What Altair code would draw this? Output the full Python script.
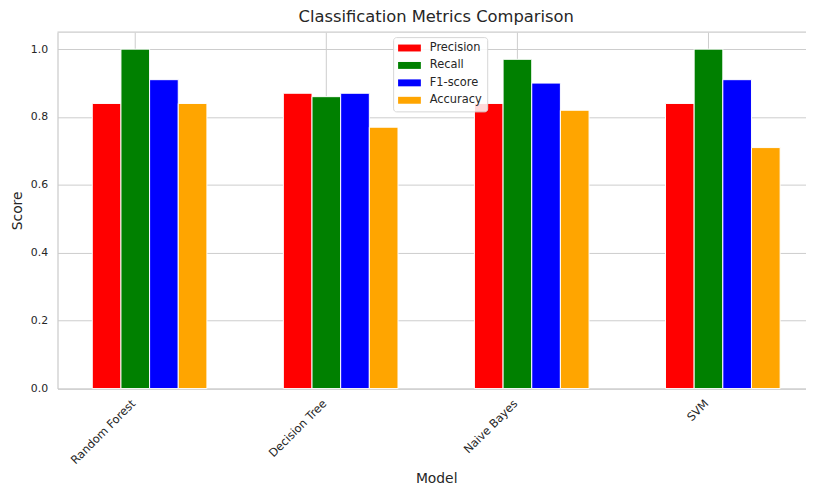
import altair as alt
import pandas as pd

models = ["Random Forest", "Decision Tree", "Naive Bayes", "SVM"]
metrics = ["Precision", "Recall", "F1-score", "Accuracy"]
precision = [0.84, 0.87, 0.84, 0.84]
recall = [1.00, 0.86, 0.97, 1.00]
f1_score = [0.91, 0.87, 0.90, 0.91]
accuracy = [0.84, 0.77, 0.82, 0.71]
colors = ["#ff0000", "#008000", "#0000ff", "#ffa500"]
y_ticks = [0.0, 0.2, 0.4, 0.6, 0.8, 1.0]
y_max = 1.05

rows = []
for metric, vals in zip(metrics, [precision, recall, f1_score, accuracy]):
    for m, v in zip(models, vals):
        rows.append({"Model": m, "Metric": metric, "Score": v})
df = pd.DataFrame(rows)

font = "DejaVu Sans"
text_color = "#262626"
grid_color = "#cccccc"

bars = alt.Chart(df).mark_bar(stroke="white", strokeWidth=1).encode(
    x=alt.X(
        "Model:N",
        sort=models,
        scale=alt.Scale(paddingInner=0.4, paddingOuter=0.182),
        axis=alt.Axis(
            title="Model", labelAngle=-45, labelAlign="right", labelBaseline="top",
            labelPadding=9, labelOffset=-20, bandPosition=0.375, ticks=False,
            domain=True, domainColor=grid_color, domainWidth=1.25,
            grid=True, gridColor=grid_color, gridWidth=1,
            labelFontSize=11.5, labelColor=text_color, labelFont=font,
            titleFontSize=14, titleFont=font, titleColor=text_color, titleFontWeight="normal",
            titleY=95, titleBaseline="alphabetic",
        ),
    ),
    xOffset=alt.XOffset("Metric:N", sort=metrics, scale=alt.Scale(paddingInner=0, paddingOuter=0)),
    y=alt.Y(
        "Score:Q",
        scale=alt.Scale(domain=[0, y_max], nice=False, zero=True),
        axis=alt.Axis(
            title="Score", values=y_ticks, format=".1f", ticks=False,
            domain=True, domainColor=grid_color, domainWidth=1.25,
            grid=True, gridColor=grid_color, gridWidth=1, labelPadding=10,
            labelFontSize=11, labelColor=text_color, labelFont=font,
            titleFontSize=14, titleFont=font, titleColor=text_color, titleFontWeight="normal",
            titlePadding=6,
        ),
    ),
    color=alt.Color(
        "Metric:N",
        sort=metrics,
        scale=alt.Scale(domain=metrics, range=colors),
        legend=alt.Legend(
            title=None, orient="none", legendX=339, legendY=5,
            symbolType="M-1,-0.583H2.833V0.583H-1Z", symbolSize=144, symbolStrokeWidth=0,
            symbolOpacity=1, labelOffset=20, padding=5, rowPadding=5.6,
            fillColor="rgba(255,255,255,0.85)", strokeColor="#d6d6d6", cornerRadius=3,
            labelFontSize=11.5, labelFont=font, labelColor=text_color,
        ),
    ),
)

top_spine = alt.Chart(pd.DataFrame({"top": [y_max]})).mark_rule(
    color=grid_color, strokeWidth=1.25
).encode(y=alt.datum(y_max))

chart = alt.layer(top_spine, bars).properties(
    width=765,
    height=360,
    padding={"left": 50, "top": 22, "right": -9, "bottom": 98},
    autosize=alt.AutoSizeParams(type="none"),
    title=alt.TitleParams(
        "Classification Metrics Comparison", fontSize=16.5, font=font, color=text_color,
        fontWeight="normal", offset=6, anchor="middle", frame="group",
    ),
).configure_view(strokeWidth=0)

chart.save("out.html", embed_options={"renderer": "svg", "actions": False})
